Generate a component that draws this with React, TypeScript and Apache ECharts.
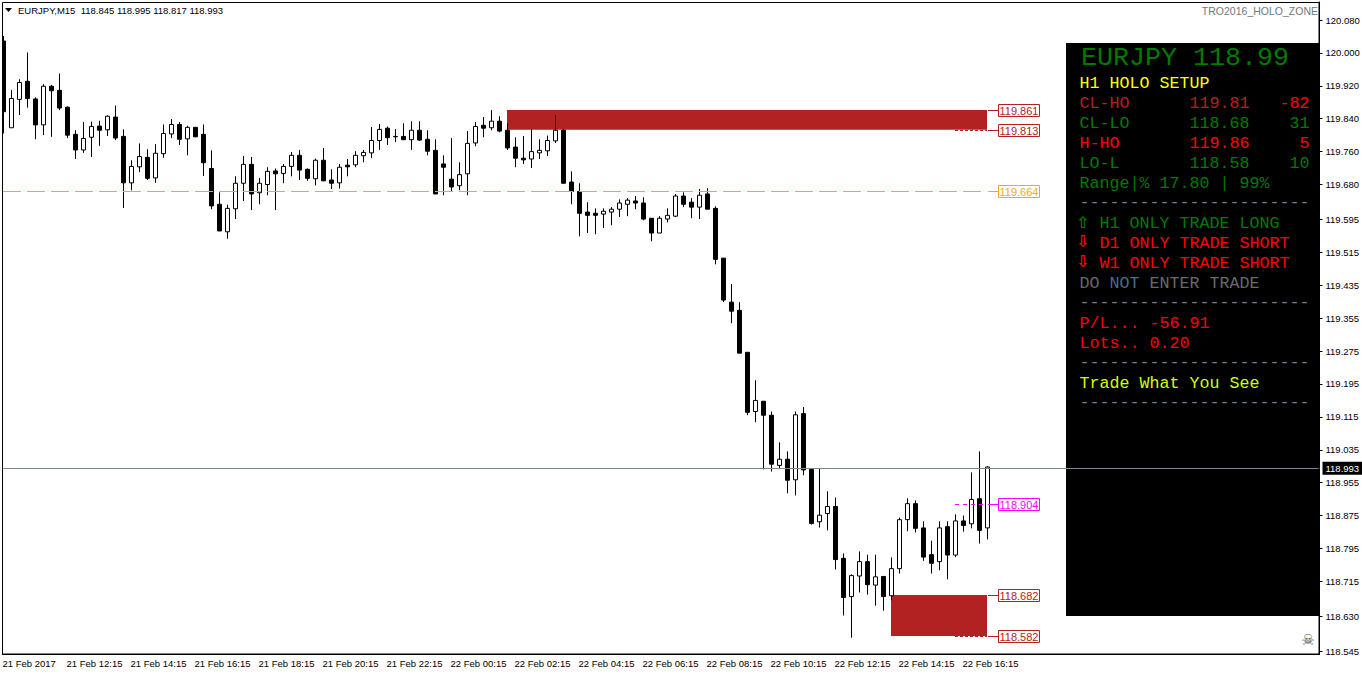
import React, { useEffect, useRef } from "react";
import * as echarts from "echarts";

// [open, close, low, high]
const candles: number[][] = [
  [120.029,119.857,119.804,120.041],[119.818,119.889,119.818,119.910],[119.887,119.928,119.849,119.936],[119.931,119.889,119.867,120.001],
  [119.888,119.825,119.790,119.892],[119.825,119.919,119.800,119.924],[119.919,119.908,119.796,119.922],[119.909,119.866,119.861,119.950],
  [119.868,119.800,119.793,119.870],[119.802,119.764,119.742,119.812],[119.764,119.792,119.757,119.832],[119.795,119.821,119.747,119.833],
  [119.822,119.812,119.774,119.835],[119.813,119.846,119.798,119.848],[119.844,119.793,119.788,119.872],[119.797,119.684,119.623,119.814],
  [119.684,119.724,119.666,119.739],[119.723,119.748,119.710,119.780],[119.746,119.695,119.691,119.766],[119.696,119.756,119.684,119.778],
  [119.755,119.804,119.745,119.826],[119.803,119.826,119.793,119.839],[119.826,119.790,119.776,119.832],[119.791,119.819,119.751,119.823],
  [119.819,119.796,119.795,119.820],[119.802,119.733,119.701,119.826],[119.719,119.628,119.620,119.763],[119.632,119.567,119.567,119.661],
  [119.565,119.622,119.548,119.631],[119.621,119.683,119.596,119.700],[119.683,119.729,119.640,119.749],[119.729,119.657,119.618,119.747],
  [119.660,119.683,119.632,119.696],[119.680,119.712,119.654,119.722],[119.713,119.706,119.618,119.719],[119.707,119.724,119.683,119.730],
  [119.724,119.751,119.700,119.759],[119.751,119.715,119.691,119.764],[119.717,119.695,119.689,119.719],[119.694,119.739,119.678,119.743],
  [119.739,119.689,119.688,119.769],[119.691,119.683,119.669,119.717],[119.684,119.722,119.670,119.730],[119.727,119.723,119.700,119.742],
  [119.728,119.751,119.722,119.761],[119.750,119.758,119.734,119.764],[119.757,119.787,119.744,119.820],[119.787,119.814,119.764,119.827],
  [119.817,119.794,119.776,119.821],[119.797,119.796,119.783,119.815],[119.797,119.789,119.788,119.829],[119.789,119.812,119.764,119.834],
  [119.812,119.788,119.786,119.834],[119.790,119.761,119.751,119.812],[119.763,119.657,119.657,119.790],[119.730,119.722,119.654,119.751],
  [119.693,119.674,119.663,119.793],[119.677,119.704,119.666,119.734],[119.706,119.780,119.654,119.810],[119.781,119.821,119.773,119.832],
  [119.824,119.817,119.795,119.844],[119.818,119.834,119.812,119.861],[119.834,119.810,119.807,119.846],[119.812,119.769,119.764,119.829],
  [119.771,119.744,119.722,119.795],[119.744,119.740,119.730,119.798],[119.742,119.760,119.720,119.814],[119.757,119.763,119.742,119.790],
  [119.762,119.787,119.749,119.799],[119.786,119.812,119.781,119.849],[119.812,119.683,119.683,119.815],[119.686,119.663,119.632,119.712],
  [119.663,119.610,119.554,119.683],[119.613,119.605,119.562,119.637],[119.610,119.605,119.559,119.622],[119.608,119.615,119.574,119.622],
  [119.613,119.620,119.581,119.625],[119.620,119.635,119.601,119.644],[119.632,119.642,119.603,119.647],[119.640,119.635,119.620,119.652],
  [119.635,119.596,119.593,119.649],[119.598,119.562,119.542,119.598],[119.562,119.598,119.562,119.603],[119.596,119.605,119.588,119.622],
  [119.603,119.652,119.601,119.657],[119.652,119.632,119.625,119.661],[119.637,119.625,119.598,119.647],[119.625,119.654,119.596,119.669],
  [119.657,119.620,119.620,119.671],[119.622,119.498,119.486,119.627],[119.501,119.399,119.394,119.501],[119.394,119.372,119.343,119.438],
  [119.374,119.270,119.270,119.394],[119.272,119.126,119.119,119.272],[119.128,119.155,119.102,119.204],[119.153,119.119,118.987,119.153],
  [119.119,119.000,118.982,119.128],[118.997,119.012,118.990,119.053],[119.012,118.961,118.929,119.031],[118.962,119.120,118.924,119.128],
  [119.123,118.986,118.973,119.139],[118.987,118.856,118.853,118.988],[118.860,118.876,118.846,118.990],[118.880,118.897,118.839,118.934],
  [118.897,118.768,118.744,118.919],[118.771,118.676,118.632,118.783],[118.678,118.729,118.578,118.732],[118.728,118.763,118.688,118.788],
  [118.763,118.707,118.683,118.780],[118.706,118.726,118.656,118.780],[118.727,118.678,118.644,118.727],[118.680,118.746,118.669,118.773],
  [118.746,118.865,118.734,118.870],[118.865,118.904,118.837,118.917],[118.904,118.844,118.834,118.912],[118.845,118.774,118.765,118.861],
  [118.780,118.759,118.734,118.814],[118.763,118.845,118.742,118.861],[118.848,118.779,118.720,118.861],[118.779,118.862,118.774,118.878],
  [118.862,118.851,118.836,118.875],[118.855,118.914,118.844,118.980],[118.916,118.839,118.807,119.031],[118.845,118.993,118.817,118.995],
];

const tickLabels = [
  "21 Feb 2017","21 Feb 12:15","21 Feb 14:15","21 Feb 16:15","21 Feb 18:15","21 Feb 20:15","21 Feb 22:15","22 Feb 00:15",
  "22 Feb 02:15","22 Feb 04:15","22 Feb 06:15","22 Feb 08:15","22 Feb 10:15","22 Feb 12:15","22 Feb 14:15","22 Feb 16:15",
];
const BAR_SLOTS = 165;
const categories = Array.from({ length: BAR_SLOTS }, (_, i) => (i % 8 === 0 && tickLabels[i / 8]) || "");

const priceTicks = [
  120.08,120.0,119.92,119.84,119.76,119.68,119.595,119.515,119.435,119.355,119.275,119.195,119.115,119.035,118.955,118.875,118.795,118.715,118.63,118.545,
];
const lastPrice = 118.993;

// supply/demand zones: [first bar, last bar, upper price, lower price]
const zones = [
  [63, 123, 119.861, 119.813],
  [111, 123, 118.682, 118.582],
];

const levelPrices = [119.861, 119.813, 119.664, 118.904, 118.682, 118.582];
const levelColors = ["#b22222", "#b22222", "#f5a623", "#ff00ff", "#b22222", "#b22222"];
// first bar of the dashed part of each level, -1 when it has none
const levelStarts = [-1, 119, 0, 119, -1, 119];
const levelDash = [[], [3, 2], [18, 6], [4, 4], [], [3, 2]];
const levelLastBar = 123;

const GREEN = "#007a00";
const RED = "#ff0000";
const BRICK = "#b22222";
const YELLOW = "#ffff00";
const SLATE = "#708090";
const DIM = "#696969";
const rule = "-----------------------";

// [column, row y, text, colour]
const panelRows: [number, number, string, string][] = [
  [0, 83, "H1 HOLO SETUP", YELLOW],
  [0, 103, "CL-HO", BRICK], [11, 103, "119.81", BRICK], [20, 103, "-82", RED],
  [0, 123, "CL-LO", GREEN], [11, 123, "118.68", GREEN], [21, 123, "31", GREEN],
  [0, 143, "H-HO", RED], [11, 143, "119.86", RED], [22, 143, "5", RED],
  [0, 163, "LO-L", GREEN], [11, 163, "118.58", GREEN], [21, 163, "10", GREEN],
  [0, 183, "Range|% 17.80 | 99%", GREEN],
  [0, 202, rule, SLATE],
  [2, 223, "H1 ONLY TRADE LONG", GREEN],
  [2, 243, "D1 ONLY TRADE SHORT", RED],
  [2, 263, "W1 ONLY TRADE SHORT", RED],
  [0, 283, "DO", DIM], [3, 283, "NOT", "#4f6a8c"], [7, 283, "ENTER TRADE", DIM],
  [0, 302, rule, SLATE],
  [0, 323, "P/L... -56.91", RED],
  [0, 343, "Lots.. 0.20", RED],
  [0, 362, rule, SLATE],
  [0, 383, "Trade What You See", "#ccff00"],
  [0, 402, rule, SLATE],
];
const panelArrows: [number, string, string][] = [
  [222, "\u21E7", GREEN],
  [241, "\u21E9", RED],
  [261, "\u21E9", RED],
];

const UI_FONT = "'Liberation Sans', Arial, sans-serif";
const MONO = "'Liberation Mono', monospace";

export default function App() {
  const ref = useRef<HTMLDivElement>(null);
  useEffect(() => {
    document.body.style.margin = "0";
    document.body.style.background = "#fff";
    const chart = echarts.init(ref.current!, undefined, { renderer: "svg" });

    const panelText = panelRows.map(([col, y, text, fill]) => ({
      type: "text", z: 3, x: 1079.5 + col * 10, y,
      style: { text, fill, font: `16.67px ${MONO}`, textVerticalAlign: "middle" },
    }));
    const arrowText = panelArrows.map(([y, text, fill]) => ({
      type: "text", z: 3, x: 1076, y,
      style: { text, fill, font: `bold 16px 'DejaVu Sans', sans-serif`, textVerticalAlign: "middle" },
    }));

    chart.setOption({
      animation: false,
      backgroundColor: "#ffffff",
      grid: { left: -0.5, top: 2, width: 1320, height: 652, containLabel: false, outerBoundsMode: "none" },
      xAxis: {
        type: "category",
        data: categories,
        boundaryGap: true,
        axisLine: { onZero: false, lineStyle: { color: "#000", width: 1 } },
        axisTick: {
          alignWithLabel: true, length: 3,
          lineStyle: { color: "#000" },
          interval: (i: number) => i % 8 === 0 && i <= 120,
        },
        axisLabel: {
          interval: (i: number) => i % 8 === 0 && i <= 120,
          align: "left", margin: 4, color: "#000", fontSize: 9.5, fontFamily: UI_FONT,
          padding: [0, 0, 0, -1],
        },
        splitLine: { show: false },
      },
      yAxis: {
        type: "value",
        position: "right",
        min: 118.5384,
        max: 120.1238,
        axisLine: { show: true, lineStyle: { color: "#000", width: 1 } },
        axisTick: { show: true, length: 3, lineStyle: { color: "#000" }, customValues: priceTicks },
        axisLabel: {
          customValues: priceTicks, margin: 6, color: "#000", fontSize: 9.5, fontFamily: UI_FONT,
          formatter: (v: number) => v.toFixed(3),
        },
        splitLine: { show: false },
      },
      graphic: [
        { type: "rect", z: 1, shape: { x: 1066, y: 43, width: 253, height: 573 }, style: { fill: "#000" } },
        { type: "text", z: 3, x: 1081, y: 58, style: { text: "EURJPY 118.99", fill: GREEN, font: `26.67px ${MONO}`, textVerticalAlign: "middle" } },
        ...panelText,
        ...arrowText,
        { type: "rect", z: 50, shape: { x: 0, y: 0, width: 2, height: 660 }, style: { fill: "#fff" } },
        { type: "rect", z: 51, shape: { x: 2.5, y: 2.5, width: 1316.5, height: 651.5 }, style: { fill: "none", stroke: "#000", lineWidth: 1 } },
        { type: "polygon", z: 52, shape: { points: [[5, 8], [12, 8], [8.5, 12]] }, style: { fill: "#000" } },
        { type: "text", z: 52, x: 18, y: 10, style: { text: "EURJPY,M15  118.845 118.995 118.817 118.993", fill: "#000", font: `9.5px ${UI_FONT}`, textVerticalAlign: "middle" } },
        { type: "text", z: 52, x: 1318, y: 11, style: { text: "TRO2016_HOLO_ZONE", fill: "#6f7880", font: `10.5px ${UI_FONT}`, textAlign: "right", textVerticalAlign: "middle" } },
        { type: "text", z: 52, x: 1308, y: 640, style: { text: "\u2620", fill: "#555555", font: `15px 'DejaVu Sans', sans-serif`, textAlign: "center", textVerticalAlign: "middle" } },
      ],
      series: [
        {
          type: "custom",
          name: "zones",
          z: 1,
          clip: false,
          coordinateSystem: "cartesian2d",
          data: zones.map((_, i) => i),
          encode: { x: 0, y: 0 },
          silent: true,
          renderItem: (params: any, api: any) => {
            const [a, b, hi, lo] = zones[params.dataIndex];
            const p0 = api.coord([a, hi]);
            const p1 = api.coord([b, lo]);
            const x0 = Math.floor(p0[0]);
            const x1 = Math.floor(p1[0]);
            return {
              type: "rect",
              shape: { x: x0, y: p0[1], width: x1 - x0, height: p1[1] - p0[1] },
              style: { fill: "#b22222" },
            };
          },
        },
        {
          type: "candlestick",
          name: "EURJPY,M15",
          z: 2,
          clip: false,
          barWidth: 4,
          data: candles,
          itemStyle: {
            color: "#ffffff", color0: "#000000",
            borderColor: "#000000", borderColor0: "#000000", borderColorDoji: "#000000",
            borderWidth: 1,
          },
          markLine: {
            silent: true,
            symbol: "none",
            z: 5,
            lineStyle: { color: "#778899", type: "solid", width: 1 },
            label: {
              position: "end", distance: 3,
              formatter: () => lastPrice.toFixed(3),
              color: "#fff", backgroundColor: "#000", fontSize: 9.5, fontFamily: UI_FONT,
              padding: [1, 3, 2, 3],
            },
            data: [{ yAxis: lastPrice }],
          },
        },
        {
          type: "custom",
          name: "levels",
          z: 4,
          clip: false,
          coordinateSystem: "cartesian2d",
          data: levelPrices.map((_, i) => i),
          encode: { x: 0, y: 0 },
          silent: true,
          renderItem: (params: any, api: any) => {
            const i = params.dataIndex;
            const color = levelColors[i];
            const [rawEnd, y0] = api.coord([levelLastBar, levelPrices[i]]);
            const endX = Math.floor(rawEnd);
            const y = Math.round(y0) + 0.5;
            const children: any[] = [];
            if (levelStarts[i] >= 0) {
              const startX = Math.floor(api.coord([levelStarts[i], levelPrices[i]])[0]);
              children.push({
                type: "line",
                shape: { x1: startX, y1: y, x2: endX, y2: y },
                style: { stroke: color, lineWidth: 1, lineDash: levelDash[i] },
              });
            }
            children.push({
              type: "line",
              shape: { x1: endX + 1, y1: y, x2: endX + 11, y2: y },
              style: { stroke: color, lineWidth: 1 },
            });
            children.push({
              type: "rect",
              shape: { x: endX + 11.5, y: y - 6, width: 41, height: 12 },
              style: { fill: "#fff", stroke: color, lineWidth: 1 },
            });
            children.push({
              type: "text",
              x: endX + 32, y: y + 0.5,
              style: {
                text: levelPrices[i].toFixed(3), fill: color,
                font: `11px ${UI_FONT}`, textAlign: "center", textVerticalAlign: "middle",
              },
            });
            return { type: "group", children };
          },
        },
      ],
    });
    return () => chart.dispose();
  }, []);
  return <div ref={ref} style={{ width: 1362, height: 675 }} />;
}
